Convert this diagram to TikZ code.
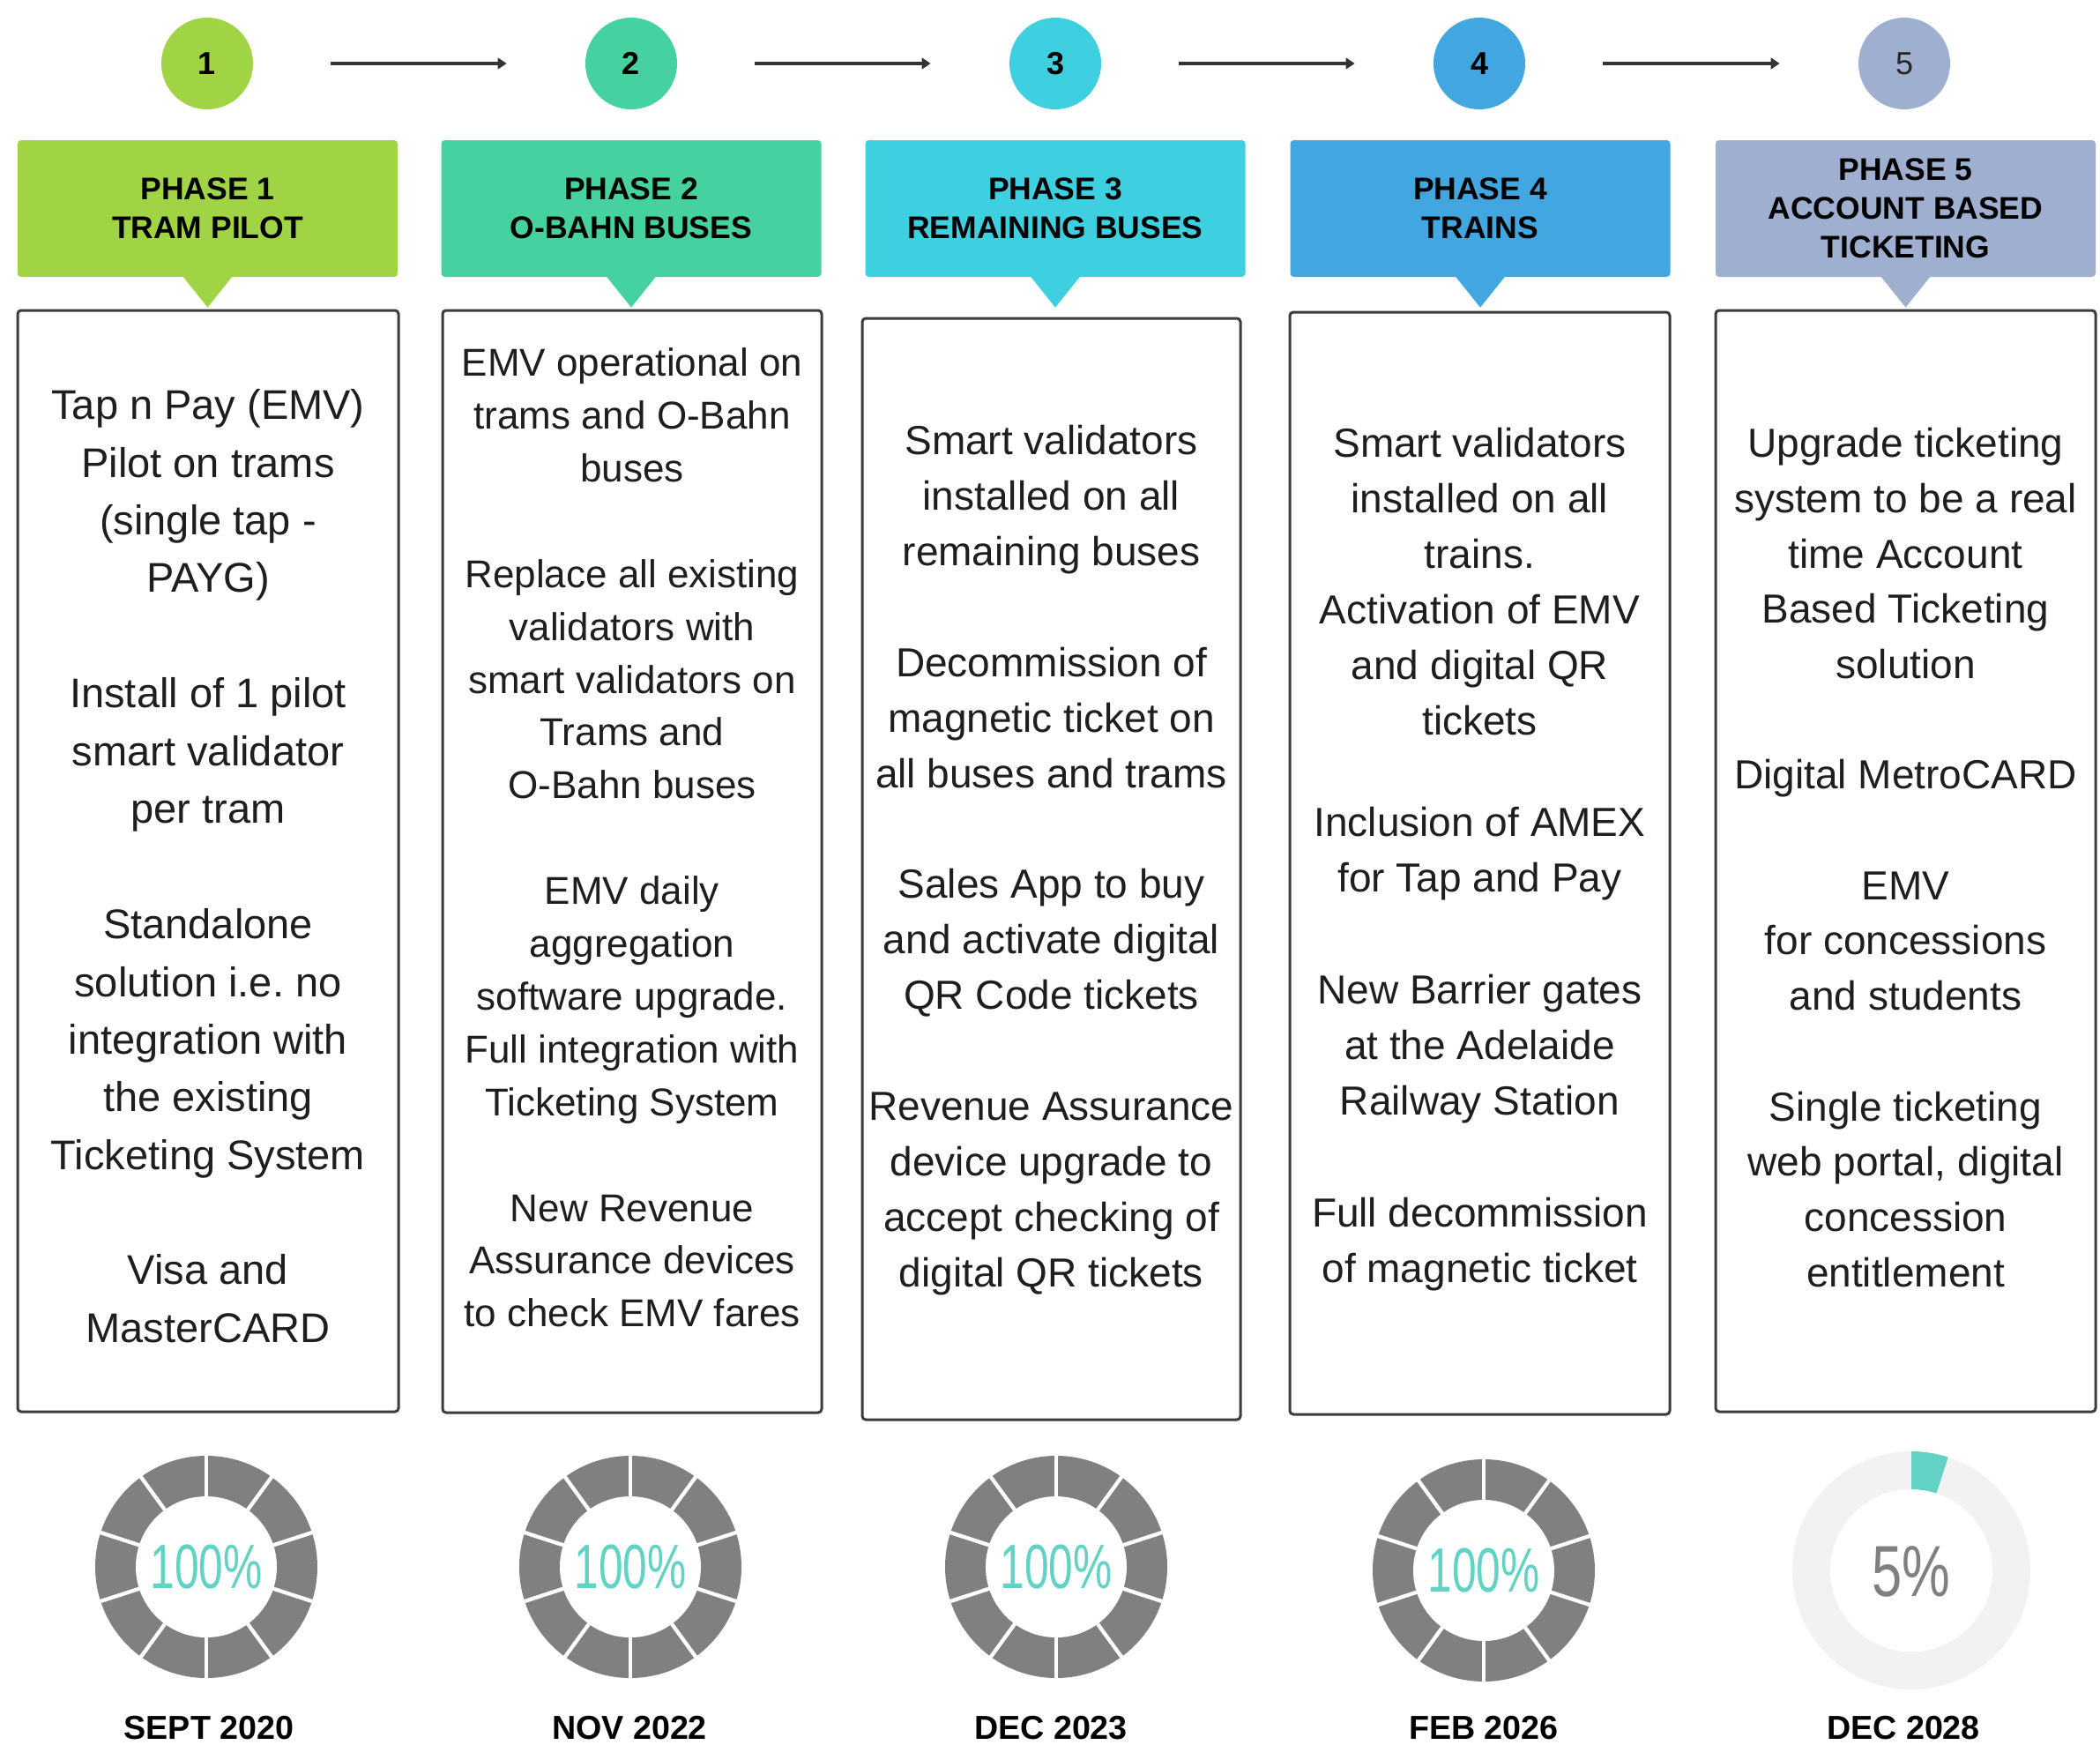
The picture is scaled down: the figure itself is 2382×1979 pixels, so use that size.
\documentclass[tikz,border=0pt]{standalone}
\usepackage{fontspec}
\usepackage{graphicx}
\setmainfont{Liberation Sans}
\usetikzlibrary{arrows.meta,calc}
\frenchspacing
\definecolor{pone}{HTML}{A0D445}
\definecolor{ptwo}{HTML}{45D1A0}
\definecolor{pthree}{HTML}{3ECFE0}
\definecolor{pfour}{HTML}{42A7E0}
\definecolor{pfive}{HTML}{9EAFD0}
\definecolor{donutgrey}{HTML}{808080}
\definecolor{tealfive}{HTML}{62D2C5}
\definecolor{ringgrey}{HTML}{F2F2F2}
\definecolor{bordergrey}{HTML}{3C3C3C}
\definecolor{txt}{HTML}{1E1E1E}
\begin{document}
\begin{tikzpicture}[x=0.3pt,y=-0.3pt,
  numcirc/.style={circle, minimum size=31.2pt, inner sep=0pt, font=\fontsize{10.8pt}{12pt}\selectfont\bfseries, text=black},
  hdr/.style={rectangle, rounded corners=1.2pt, minimum width=129.3pt, minimum height=46.5pt, inner sep=0pt, align=center, font=\fontsize{10.65pt}{13.2pt}\selectfont\bfseries, text=black},
  cbox/.style={rectangle, draw=bordergrey, line width=0.9pt, rounded corners=1.2pt, fill=white, inner sep=0pt},
  ptxt/.style 2 args={anchor=north, inner sep=0pt, align=center, text=txt, font=\fontsize{#1}{#2}\selectfont\frenchspacing, yshift=0.7*#2},
  flow/.style={draw=black!80, line width=1pt, -{Triangle[length=3pt,width=3.8pt]}, shorten <=26.2pt, shorten >=26.6pt},
  pct/.style={inner sep=0pt, text=tealfive, font=\fontsize{21.3pt}{24pt}\selectfont},
  datel/.style={anchor=base, inner sep=0pt, text=black, font=\fontsize{11.3pt}{13pt}\selectfont\bfseries},
  gapline/.style={draw=white, line width=1.3pt}
]
\fill[white] (0,0) rectangle (2382,1979);
\useasboundingbox (0,0) rectangle (2382,1979);

% numbered circles
\node[numcirc, fill=pone] (c1) at (235,72) {1};
\node[numcirc, fill=ptwo] (c2) at (716,72) {2};
\node[numcirc, fill=pthree] (c3) at (1197,72) {3};
\node[numcirc, fill=pfour] (c4) at (1678,72) {4};
\node[numcirc, fill=pfive, font=\fontsize{10.8pt}{12pt}\selectfont, text=black!85] (c5) at (2160,72) {5};
\draw[flow] (c1) -- (c2);
\draw[flow] (c2) -- (c3);
\draw[flow] (c3) -- (c4);
\draw[flow] (c4) -- (c5);

% headers
\node[hdr, fill=pone] (h1) at (235.5,236.5) {PHASE 1\\TRAM PILOT};
\node[hdr, fill=ptwo] (h2) at (716,236.5) {PHASE 2\\O-BAHN BUSES};
\node[hdr, fill=pthree] (h3) at (1197,236.5) {PHASE 3\\REMAINING BUSES};
\node[hdr, fill=pfour] (h4) at (1679,236.5) {PHASE 4\\TRAINS};
\node[hdr, fill=pfive] (h5) at (2161.5,236.5) {PHASE 5\\ACCOUNT BASED\\TICKETING};
\foreach \i/\col in {1/pone,2/ptwo,3/pthree,4/pfour,5/pfive}
  \fill[\col] ($(h\i.south)+(-28,-1)$) -- ($(h\i.south)+(28,-1)$) -- ($(h\i.south)+(0,34)$) -- cycle;

% content boxes
\node[cbox, minimum width=129.6pt, minimum height=374.7pt] (b1) at (236,976.5) {};
\node[cbox, minimum width=129pt, minimum height=375pt] (b2) at (717,977) {};
\node[cbox, minimum width=128.7pt, minimum height=374.7pt] (b3) at (1192.5,985.5) {};
\node[cbox, minimum width=129.3pt, minimum height=375pt] (b4) at (1678.5,979) {};
\node[cbox, minimum width=129.3pt, minimum height=374.7pt] (b5) at (2161.5,976.5) {};

% box 1 text
\node[ptxt={14.1pt}{19.62pt}] (t11) at (236,475) {\strut Tap n Pay (EMV)\\Pilot on trams\\(single tap -\\PAYG)};
\node[ptxt={14.1pt}{19.62pt}] (t12) at (236,802) {\strut Install of 1 pilot\\smart validator\\per tram};
\node[ptxt={14.1pt}{19.62pt}] (t13) at (236,1064) {\strut Standalone\\solution i.e.\ no\\integration with\\the existing\\Ticketing System};
\node[ptxt={14.1pt}{19.62pt}] (t14) at (236,1456) {\strut Visa and\\MasterCARD};

% box 2 text
\node[ptxt={13.2pt}{17.97pt}] (t21) at (717,426) {\strut EMV operational on\\trams and O-Bahn\\buses};
\node[ptxt={13.2pt}{17.97pt}] (t22) at (717,665.6) {\strut Replace all existing\\validators with\\smart validators on\\Trams and\\O-Bahn buses};
\node[ptxt={13.2pt}{17.97pt}] (t23) at (717,1025) {\strut EMV daily\\aggregation\\software upgrade.\\Full integration with\\Ticketing System};
\node[ptxt={13.2pt}{17.97pt}] (t24) at (717,1384.4) {\strut New Revenue\\Assurance devices\\to check EMV fares};

% box 3 text
\node[ptxt={13.8pt}{18.87pt}] (t31) at (1192.5,515) {\strut Smart validators\\installed on all\\remaining buses};
\node[ptxt={13.8pt}{18.87pt}] (t32) at (1192.5,766.6) {\strut Decommission of\\magnetic ticket on\\all buses and trams};
\node[ptxt={13.8pt}{18.87pt}] (t33) at (1192.5,1018.2) {\strut Sales App to buy\\and activate digital\\QR Code tickets};
\node[ptxt={13.8pt}{18.87pt}] (t34) at (1192.5,1269.8) {\strut Revenue Assurance\\device upgrade to\\accept checking of\\digital QR tickets};

% box 4 text
\node[ptxt={13.8pt}{18.9pt}] (t41) at (1678.5,518) {\strut Smart validators\\installed on all\\trains.\\Activation of EMV\\and digital QR\\tickets};
\node[ptxt={13.8pt}{18.9pt}] (t42) at (1678.5,948) {\strut Inclusion of AMEX\\for Tap and Pay};
\node[ptxt={13.8pt}{18.9pt}] (t43) at (1678.5,1138) {\strut New Barrier gates\\at the Adelaide\\Railway Station};
\node[ptxt={13.8pt}{18.9pt}] (t44) at (1678.5,1391) {\strut Full decommission\\of magnetic ticket};

% box 5 text
\node[ptxt={13.8pt}{18.81pt}] (t51) at (2161.5,518) {\strut Upgrade ticketing\\system to be a real\\time Account\\Based Ticketing\\solution};
\node[ptxt={13.8pt}{18.81pt}] (t52) at (2161.5,894.2) {\strut Digital MetroCARD};
\node[ptxt={13.8pt}{18.81pt}] (t53) at (2161.5,1019.6) {\strut EMV\\for concessions\\and students};
\node[ptxt={13.8pt}{18.81pt}] (t54) at (2161.5,1270.4) {\strut Single ticketing\\web portal, digital\\concession\\entitlement};

% donuts 100%
\foreach \cx/\cy in {234/1777, 715/1777, 1198/1777, 1683/1781} {
  \fill[donutgrey] (\cx,\cy) circle[radius=126];
  \fill[white] (\cx,\cy) circle[radius=80];
  \foreach \a in {18,54,...,342}
    \draw[gapline] (\cx,\cy) ++(\a:77) -- ++(\a:53);
}
\node[pct] (p1) at (234,1777) {\scalebox{0.7}[1]{100\%}};
\node[pct] (p2) at (715,1777) {\scalebox{0.7}[1]{100\%}};
\node[pct] (p3) at (1198,1777) {\scalebox{0.7}[1]{100\%}};
\node[pct] (p4) at (1683,1781) {\scalebox{0.7}[1]{100\%}};

% donut 5%
\fill[ringgrey] (2168,1781) circle[radius=135];
\fill[white] (2168,1781) circle[radius=92];
\fill[tealfive] plot[domain=-90:-72, samples=8] ({2168+135*cos(\x)},{1781+135*sin(\x)})
  -- plot[domain=-72:-90, samples=8] ({2168+92*cos(\x)},{1781+92*sin(\x)}) -- cycle;
\node[pct, text=donutgrey, font=\fontsize{24.6pt}{28pt}\selectfont] (p5) at (2168,1782) {\scalebox{0.75}[1]{5\%}};

% dates
\node[datel] (d1) at (237,1972) {SEPT 2020};
\node[datel] (d2) at (714,1972) {NOV 2022};
\node[datel] (d3) at (1192,1972) {DEC 2023};
\node[datel] (d4) at (1683,1972) {FEB 2026};
\node[datel] (d5) at (2159,1972) {DEC 2028};
\end{tikzpicture}
\end{document}
